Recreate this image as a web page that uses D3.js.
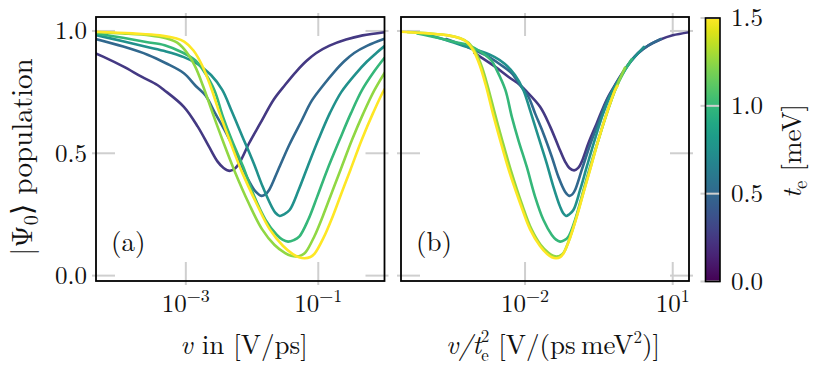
<!DOCTYPE html>
<html>
<head>
<meta charset="utf-8">
<script src="https://cdn.jsdelivr.net/npm/d3@7"></script>
<style>
  body { margin: 0; background: #fff; }
  svg text { font-family: 'Latin Modern Roman', 'CMU Serif', 'Liberation Serif', 'Times New Roman', serif; fill: #111; }
</style>
</head>
<body>
<svg id="chart" width="814" height="366"></svg>
<script>
// Hopping strengths t_e in meV, one curve each
var teValues = [0.25, 0.5, 0.75, 1.0, 1.25, 1.5];

// Panel (a): [log10(v in V/ps), |Psi0> population]
var popA_te025 = [[-4.36, 0.908], [-4.25, 0.895], [-3.94, 0.854], [-3.67, 0.813], [-3.43, 0.779], [-3.33, 0.759],
  [-3.03, 0.690], [-2.82, 0.609], [-2.65, 0.527], [-2.52, 0.466], [-2.43, 0.440], [-2.336, 0.428], [-2.25, 0.440],
  [-2.18, 0.466], [-2.045, 0.541], [-1.875, 0.623], [-1.672, 0.720], [-1.50, 0.780], [-1.33, 0.835], [-1.18, 0.877],
  [-1.03, 0.910], [-0.83, 0.940], [-0.58, 0.965], [-0.33, 0.982], [0.0, 0.995]];
var popA_te050 = [[-4.36, 0.967], [-3.945, 0.936], [-3.57, 0.902], [-3.30, 0.868], [-3.03, 0.827], [-2.85, 0.775],
  [-2.70, 0.735], [-2.55, 0.660], [-2.39, 0.582], [-2.215, 0.486], [-2.08, 0.404], [-1.945, 0.343], [-1.858, 0.326],
  [-1.80, 0.332], [-1.742, 0.350], [-1.606, 0.432], [-1.437, 0.535], [-1.258, 0.630], [-1.098, 0.715], [-0.928, 0.777],
  [-0.758, 0.833], [-0.608, 0.876], [-0.458, 0.910], [-0.258, 0.940], [0.0, 0.968]];
var popA_te075 = [[-4.36, 0.983], [-3.95, 0.958], [-3.60, 0.935], [-3.30, 0.916], [-3.03, 0.893], [-2.83, 0.866],
  [-2.62, 0.820], [-2.45, 0.759], [-2.315, 0.677], [-2.145, 0.568], [-1.975, 0.459], [-1.84, 0.364], [-1.704, 0.282],
  [-1.64, 0.255], [-1.582, 0.244], [-1.52, 0.250], [-1.433, 0.268], [-1.297, 0.350], [-1.161, 0.445], [-0.992, 0.560],
  [-0.823, 0.665], [-0.653, 0.750], [-0.415, 0.831], [-0.265, 0.875], [-0.115, 0.912], [0.0, 0.938]];
var popA_te100 = [[-4.36, 0.990], [-3.95, 0.972], [-3.60, 0.955], [-3.32, 0.942], [-3.05, 0.912], [-2.85, 0.878],
  [-2.74, 0.840], [-2.57, 0.759], [-2.44, 0.650], [-2.30, 0.550], [-2.134, 0.445], [-1.965, 0.323], [-1.796, 0.228],
  [-1.625, 0.166], [-1.54, 0.147], [-1.457, 0.139], [-1.37, 0.145], [-1.288, 0.159], [-1.152, 0.228], [-1.016, 0.323],
  [-0.868, 0.430], [-0.678, 0.555], [-0.508, 0.663], [-0.338, 0.759], [-0.168, 0.830], [0.0, 0.890]];
var popA_te125 = [[-4.36, 0.995], [-3.95, 0.990], [-3.54, 0.982], [-3.30, 0.970], [-3.13, 0.952], [-2.98, 0.910],
  [-2.86, 0.855], [-2.74, 0.775], [-2.59, 0.660], [-2.44, 0.550], [-2.26, 0.425], [-2.05, 0.296], [-1.85, 0.190],
  [-1.66, 0.125], [-1.50, 0.092], [-1.41, 0.081], [-1.33, 0.078], [-1.25, 0.084], [-1.19, 0.096], [-1.06, 0.160],
  [-0.93, 0.244], [-0.795, 0.340], [-0.66, 0.435], [-0.49, 0.555], [-0.32, 0.663], [-0.15, 0.759], [0.05, 0.850]];
var popA_te150 = [[-4.36, 0.997], [-3.805, 0.990], [-3.395, 0.982], [-3.155, 0.970], [-3.025, 0.956], [-2.885, 0.920],
  [-2.755, 0.860], [-2.635, 0.780], [-2.485, 0.660], [-2.335, 0.550], [-2.155, 0.425], [-1.935, 0.296], [-1.735, 0.190],
  [-1.535, 0.122], [-1.385, 0.088], [-1.29, 0.075], [-1.205, 0.071], [-1.12, 0.076], [-1.055, 0.090], [-0.92, 0.155],
  [-0.785, 0.240], [-0.65, 0.337], [-0.515, 0.432], [-0.345, 0.554], [-0.175, 0.663], [-0.005, 0.759], [0.045, 0.776]];

// Panel (b): [log10(v/t_e^2 in V/(ps meV^2)), population]
var popB_te025 = [[-3.03, 0.910], [-2.915, 0.895], [-2.61, 0.854], [-2.34, 0.813], [-2.10, 0.779], [-2.0, 0.759],
  [-1.695, 0.690], [-1.49, 0.609], [-1.32, 0.527], [-1.187, 0.466], [-1.10, 0.440], [-1.004, 0.430], [-0.92, 0.440],
  [-0.848, 0.466], [-0.713, 0.541], [-0.543, 0.623], [-0.34, 0.720], [-0.17, 0.780], [0.0, 0.835], [0.15, 0.877],
  [0.3, 0.910], [0.5, 0.940], [0.75, 0.965], [1.0, 0.982], [1.34, 0.995]];
var popB_te050 = [[-3.60, 0.967], [-3.19, 0.936], [-2.81, 0.902], [-2.54, 0.868], [-2.27, 0.827], [-2.09, 0.775],
  [-1.94, 0.735], [-1.79, 0.660], [-1.63, 0.582], [-1.457, 0.486], [-1.323, 0.404], [-1.187, 0.343], [-1.10, 0.326],
  [-1.04, 0.332], [-0.984, 0.350], [-0.848, 0.432], [-0.679, 0.535], [-0.50, 0.630], [-0.34, 0.715], [-0.17, 0.777],
  [0.0, 0.833], [0.15, 0.876], [0.3, 0.910], [0.5, 0.940], [0.76, 0.967]];
var popB_te075 = [[-3.945, 0.983], [-3.535, 0.958], [-3.185, 0.935], [-2.885, 0.916], [-2.615, 0.893], [-2.415, 0.866],
  [-2.205, 0.820], [-2.035, 0.759], [-1.90, 0.677], [-1.73, 0.568], [-1.56, 0.459], [-1.425, 0.364], [-1.289, 0.282],
  [-1.225, 0.255], [-1.167, 0.244], [-1.105, 0.250], [-1.018, 0.268], [-0.882, 0.350], [-0.746, 0.445], [-0.577, 0.560],
  [-0.408, 0.665], [-0.238, 0.750], [0.0, 0.831], [0.15, 0.875], [0.3, 0.910], [0.415, 0.935]];
var popB_te100 = [[-4.19, 0.990], [-3.78, 0.972], [-3.43, 0.955], [-3.15, 0.942], [-2.88, 0.912], [-2.68, 0.878],
  [-2.575, 0.840], [-2.40, 0.759], [-2.27, 0.650], [-2.13, 0.550], [-1.966, 0.445], [-1.797, 0.323], [-1.628, 0.228],
  [-1.457, 0.166], [-1.37, 0.147], [-1.289, 0.139], [-1.20, 0.145], [-1.12, 0.159], [-0.984, 0.228], [-0.848, 0.323],
  [-0.70, 0.430], [-0.51, 0.555], [-0.34, 0.663], [-0.17, 0.759], [0.0, 0.830], [0.17, 0.885]];
var popB_te125 = [[-4.38, 0.995], [-3.97, 0.990], [-3.56, 0.982], [-3.32, 0.970], [-3.15, 0.952], [-3.0, 0.910],
  [-2.88, 0.855], [-2.76, 0.775], [-2.61, 0.660], [-2.46, 0.550], [-2.28, 0.425], [-2.07, 0.296], [-1.87, 0.190],
  [-1.68, 0.125], [-1.52, 0.092], [-1.43, 0.081], [-1.35, 0.078], [-1.27, 0.084], [-1.21, 0.096], [-1.08, 0.160],
  [-0.95, 0.244], [-0.815, 0.340], [-0.68, 0.435], [-0.51, 0.555], [-0.34, 0.663], [-0.17, 0.759], [0.03, 0.850]];
var popB_te150 = [[-4.52, 0.997], [-3.97, 0.990], [-3.56, 0.982], [-3.32, 0.970], [-3.19, 0.956], [-3.05, 0.920],
  [-2.92, 0.860], [-2.80, 0.780], [-2.65, 0.660], [-2.50, 0.550], [-2.32, 0.425], [-2.10, 0.296], [-1.90, 0.190],
  [-1.70, 0.122], [-1.55, 0.088], [-1.455, 0.075], [-1.37, 0.071], [-1.285, 0.076], [-1.22, 0.090], [-1.085, 0.155],
  [-0.95, 0.240], [-0.815, 0.337], [-0.68, 0.432], [-0.51, 0.554], [-0.34, 0.663], [-0.17, 0.759], [-0.12, 0.776]];

var seriesA = [popA_te025, popA_te050, popA_te075, popA_te100, popA_te125, popA_te150];
var seriesB = [popB_te025, popB_te050, popB_te075, popB_te100, popB_te125, popB_te150];

var yTicks = [0, 0.5, 1.0];
var yTickLabels = ['0.0', '0.5', '1.0'];
var xTicksA = [1e-3, 1e-1];
var xTicksB = [1e-2, 1e1];
var cbarTicks = [0, 0.5, 1.0, 1.5];
var cbarTickLabels = ['0.0', '0.5', '1.0', '1.5'];

var TICK_COLOR = '#cfcfcf';
var TICK_IN = 19, TICK_OUT = 4;
var FS_TICK = 25, FS_LABEL = 27;

var svg = d3.select('#chart');
var defs = svg.append('defs');

var yDomain = [-0.022, 1.057];
var teColor = function(te) { return d3.interpolateViridis(te / 1.5); };

// Add a run of tspans: parts = [{t, dy, dx, size, italic}]
function richText(sel, parts) {
  parts.forEach(function(p) {
    var ts = sel.append('tspan').text(p.t);
    if (p.dy) ts.attr('dy', p.dy);
    if (p.dx) ts.attr('dx', p.dx);
    if (p.size) ts.style('font-size', p.size + 'px');
    if (p.italic) ts.style('font-style', 'italic');
  });
  return sel;
}

function drawPanel(opts) {
  var x = d3.scaleLog().domain(opts.xDomain).range([opts.x0, opts.x1]);
  var y = d3.scaleLinear().domain(yDomain).range([opts.y1, opts.y0]);
  var g = svg.append('g').attr('class', 'panel-' + opts.id);

  defs.append('clipPath').attr('id', 'clip-' + opts.id)
    .append('rect')
      .attr('x', opts.x0).attr('y', opts.y0)
      .attr('width', opts.x1 - opts.x0).attr('height', opts.y1 - opts.y0);

  // light in/out ticks on all four sides
  var ticks = g.append('g').attr('stroke', TICK_COLOR).attr('stroke-width', 2);
  yTicks.forEach(function(t) {
    ticks.append('line').attr('x1', opts.x0 - TICK_OUT).attr('x2', opts.x0 + TICK_IN)
      .attr('y1', y(t)).attr('y2', y(t));
    ticks.append('line').attr('x1', opts.x1 - TICK_IN).attr('x2', opts.x1 + TICK_OUT)
      .attr('y1', y(t)).attr('y2', y(t));
  });
  opts.xTicks.forEach(function(t) {
    ticks.append('line').attr('x1', x(t)).attr('x2', x(t))
      .attr('y1', opts.y1 + TICK_OUT).attr('y2', opts.y1 - TICK_IN);
    ticks.append('line').attr('x1', x(t)).attr('x2', x(t))
      .attr('y1', opts.y0 - TICK_OUT).attr('y2', opts.y0 + TICK_IN);
  });

  var line = d3.line()
    .x(function(d) { return x(Math.pow(10, d[0])); })
    .y(function(d) { return y(d[1]); })
    .curve(d3.curveCatmullRom.alpha(0.5));

  g.append('g').attr('clip-path', 'url(#clip-' + opts.id + ')')
    .selectAll('path')
    .data(opts.series)
    .enter().append('path')
      .attr('d', line)
      .attr('fill', 'none')
      .attr('stroke', function(d, i) { return teColor(teValues[i]); })
      .attr('stroke-width', 2.6)
      .attr('stroke-linejoin', 'round')
      .attr('stroke-linecap', 'round');

  g.append('rect')
    .attr('x', opts.x0).attr('y', opts.y0)
    .attr('width', opts.x1 - opts.x0).attr('height', opts.y1 - opts.y0)
    .attr('fill', 'none').attr('stroke', '#000').attr('stroke-width', 1.8);

  // x tick labels as 10^n
  opts.xTicks.forEach(function(t) {
    var n = Math.round(Math.log10(t));
    var txt = g.append('text')
      .attr('x', x(t)).attr('y', 312)
      .attr('text-anchor', 'middle')
      .style('font-size', FS_TICK + 'px');
    richText(txt, [{t: '10'}, {t: n < 0 ? '\u2212' + (-n) : String(n), dy: -10, size: 18}]);
  });

  if (opts.yLabels) {
    yTicks.forEach(function(t, i) {
      g.append('text')
        .attr('x', opts.x0 - 9).attr('y', y(t)).attr('dy', '0.33em')
        .attr('text-anchor', 'end')
        .style('font-size', FS_TICK + 'px')
        .text(yTickLabels[i]);
    });
  }

  g.append('text')
    .attr('x', opts.x0 + 15).attr('y', 251)
    .style('font-size', '27px')
    .text(opts.tag);

  return {x: x, y: y, g: g};
}

var pa = drawPanel({id: 'a', tag: '(a)', x0: 96, x1: 384.5, y0: 17, y1: 281,
  xDomain: [4.4e-5, 1], xTicks: xTicksA, series: seriesA, yLabels: true});
var pb = drawPanel({id: 'b', tag: '(b)', x0: 401, x1: 689, y0: 17, y1: 281,
  xDomain: [3.02e-5, 21.4], xTicks: xTicksB, series: seriesB, yLabels: false});

// axis labels
var xlabA = svg.append('text')
  .attr('x', 244).attr('y', 354).attr('text-anchor', 'middle')
  .style('font-size', FS_LABEL + 'px');
richText(xlabA, [{t: 'v', italic: true}, {t: ' in [V/ps]'}]);

// t_e^2 with sub- and superscript stacked
var xlabB = svg.append('text')
  .attr('x', 553).attr('y', 354).attr('text-anchor', 'middle')
  .style('font-size', FS_LABEL + 'px');
richText(xlabB, [
  {t: 'v/t', italic: true},
  {t: 'e', dy: 7, size: 17},
  {t: '2', dy: -19, dx: -8, size: 17},
  {t: ' [V/(ps\u2009meV', dy: 12},
  {t: '2', dy: -11, size: 17},
  {t: ')]', dy: 11}
]);

var ylab = svg.append('text')
  .attr('transform', 'translate(32,157) rotate(-90)')
  .attr('text-anchor', 'middle')
  .style('font-size', '29px');
richText(ylab, [{t: '|\u03A8'}, {t: '0', dy: 6, size: 20}, {t: '\u27E9 population', dy: -6}]);

// colour bar
var cb = {x0: 705.5, x1: 720, y0: 18, y1: 281.5};
var cbScale = d3.scaleLinear().domain([0, 1.5]).range([cb.y1, cb.y0]);
var grad = defs.append('linearGradient').attr('id', 'viridis')
  .attr('x1', 0).attr('y1', 1).attr('x2', 0).attr('y2', 0);
d3.range(0, 1.0001, 0.05).forEach(function(f) {
  grad.append('stop').attr('offset', f).attr('stop-color', d3.interpolateViridis(f));
});
var cbg = svg.append('g').attr('class', 'colorbar');
cbg.append('rect')
  .attr('x', cb.x0).attr('y', cb.y0)
  .attr('width', cb.x1 - cb.x0).attr('height', cb.y1 - cb.y0)
  .attr('fill', 'url(#viridis)');
cbg.selectAll('line.tick')
  .data(cbarTicks)
  .enter().append('line')
    .attr('class', 'tick')
    .attr('x1', cb.x0 - 5).attr('x2', cb.x1)
    .attr('y1', function(d) { return cbScale(d); })
    .attr('y2', function(d) { return cbScale(d); })
    .attr('stroke', TICK_COLOR).attr('stroke-width', 2);
cbg.append('rect')
  .attr('x', cb.x0).attr('y', cb.y0)
  .attr('width', cb.x1 - cb.x0).attr('height', cb.y1 - cb.y0)
  .attr('fill', 'none').attr('stroke', '#000').attr('stroke-width', 1.6);
cbg.selectAll('text.ticklabel')
  .data(cbarTicks)
  .enter().append('text')
    .attr('class', 'ticklabel')
    .attr('x', 731).attr('y', function(d) { return cbScale(d); }).attr('dy', '0.33em')
    .style('font-size', FS_TICK + 'px')
    .text(function(d, i) { return cbarTickLabels[i]; });

var cblab = svg.append('text')
  .attr('transform', 'translate(801,151) rotate(-90)')
  .attr('text-anchor', 'middle')
  .style('font-size', FS_LABEL + 'px');
richText(cblab, [{t: 't', italic: true}, {t: 'e', dy: 6, size: 19}, {t: ' [meV]', dy: -6}]);
</script>
</body>
</html>
